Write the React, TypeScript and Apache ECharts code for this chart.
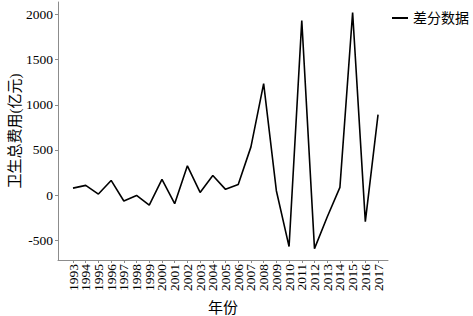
import React, { useEffect, useRef } from "react";
import * as echarts from "echarts";

const years = ["1993", "1994", "1995", "1996", "1997", "1998", "1999", "2000", "2001", "2002", "2003", "2004", "2005", "2006", "2007", "2008", "2009", "2010", "2011", "2012", "2013", "2014", "2015", "2016", "2017"];
const diffValues = [77, 107, 11, 162, -66, -4, -111, 173, -96, 324, 29, 217, 63, 118, 534, 1235, 48, -571, 1935, -594, -243, 85, 2024, -295, 892];
const yTicks = [-500, 0, 500, 1000, 1500, 2000];
const seriesName = "差分数据";
const xTitle = "年份";
const yTitle = "卫生总费用(亿元)";

const FONT = "Liberation Serif, Times New Roman, Noto Sans CJK SC, serif";
const AXIS_GRAY = "#8c8c8c";
const Y_MIN = -720;
const Y_MAX = 2140;

export default function App() {
  const ref = useRef<HTMLDivElement>(null);
  useEffect(() => {
    if (!ref.current) return;
    const chart = echarts.init(ref.current, null, { renderer: "svg" });
    const band = 12.71;
    const firstX = 73;
    const gridBLeft = firstX - band / 2;
    const gridBWidth = band * years.length;
    chart.setOption({
      animation: false,
      backgroundColor: "#fff",
      grid: [
        { left: 58, right: 85, top: 2, bottom: 56, containLabel: false, outerBoundsMode: "none" },
        { left: gridBLeft, width: gridBWidth, top: 2, bottom: 56, containLabel: false, outerBoundsMode: "none" },
      ],
      legend: {
        left: 387,
        top: 6,
        itemWidth: 16,
        itemHeight: 2,
        textStyle: { fontFamily: FONT, fontSize: 14, color: "#000" },
        data: [{ name: seriesName, icon: "rect", itemStyle: { color: "#000" } }],
      },
      xAxis: [
        {
          gridIndex: 0,
          type: "value",
          min: 0,
          max: 1,
          name: xTitle,
          nameLocation: "middle",
          nameGap: 40,
          nameTextStyle: { fontFamily: FONT, fontSize: 15, color: "#000" },
          axisLine: { show: true, onZero: false, lineStyle: { color: AXIS_GRAY, width: 1 } },
          axisTick: { show: false },
          axisLabel: { show: false },
          splitLine: { show: false },
        },
        {
          gridIndex: 1,
          type: "category",
          data: years,
          boundaryGap: true,
          axisLine: { show: false, onZero: false },
          axisTick: { show: true, alignWithLabel: true, interval: 0, length: 3, lineStyle: { color: AXIS_GRAY } },
          axisLabel: {
            interval: 0,
            rotate: 90,
            fontFamily: FONT,
            fontSize: 13.5,
            color: "#000",
            margin: 4,
          },
          splitLine: { show: false },
        },
      ],
      yAxis: [
        {
          gridIndex: 0,
          type: "value",
          min: Y_MIN,
          max: Y_MAX,
          name: yTitle,
          nameLocation: "middle",
          nameRotate: 90,
          nameGap: 36,
          nameMoveOverlap: false,
          nameTextStyle: { fontFamily: FONT, fontSize: 15, color: "#000" },
          axisLine: { show: true, onZero: false, lineStyle: { color: AXIS_GRAY, width: 1 } },
          axisTick: { show: true, customValues: yTicks, length: 3, lineStyle: { color: AXIS_GRAY } },
          axisLabel: {
            customValues: yTicks,
            fontFamily: FONT,
            fontSize: 13.5,
            color: "#000",
            margin: 5,
            formatter: (v: number) => String(v),
          },
          splitLine: { show: false },
        },
        {
          gridIndex: 1,
          type: "value",
          min: Y_MIN,
          max: Y_MAX,
          show: false,
          splitLine: { show: false },
        },
      ],
      series: [
        {
          name: seriesName,
          type: "line",
          xAxisIndex: 1,
          yAxisIndex: 1,
          data: diffValues,
          symbol: "none",
          showSymbol: false,
          lineStyle: { color: "#000", width: 1.6 },
          itemStyle: { color: "#000" },
        },
      ],
    });
    return () => chart.dispose();
  }, []);
  return <div ref={ref} style={{ width: 473, height: 316, position: "absolute", left: 0, top: 0 }} />;
}
